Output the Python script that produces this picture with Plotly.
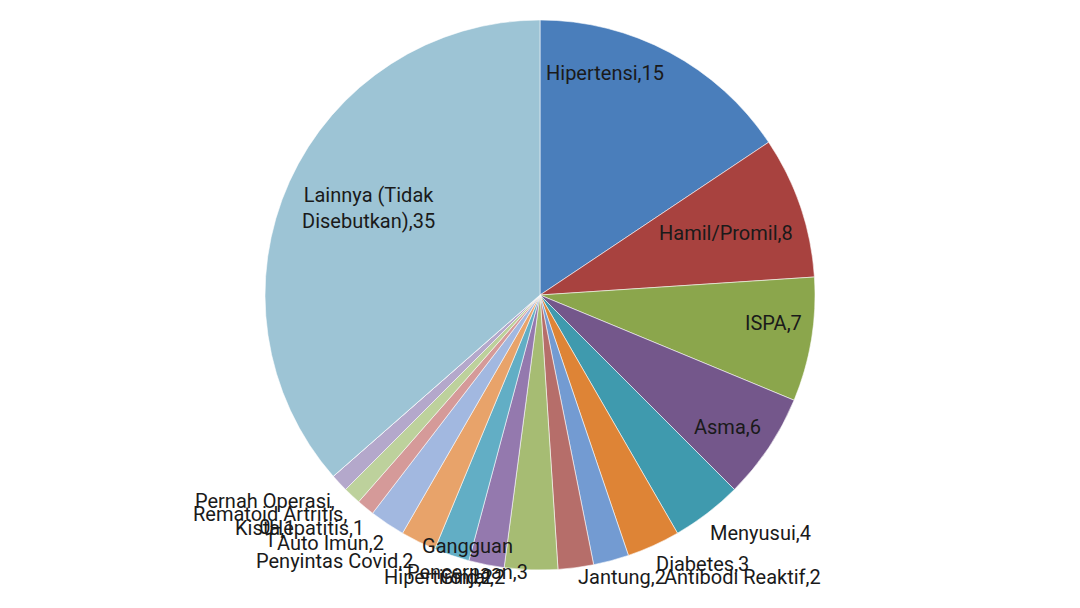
import plotly.graph_objects as go

# ---- data ----
categories = ["Hipertensi", "Hamil/Promil", "ISPA", "Asma", "Menyusui", "Diabetes",
              "Antibodi Reaktif", "Jantung", "Gangguan Pencernaan", "Ginjal", "Hipertiroid",
              "Penyintas Covid", "Auto Imun", "Hepatitis", "Kista", "Rematoid Artritis",
              "Pernah Operasi", "Lainnya (Tidak Disebutkan)"]
values = [15, 8, 7, 6, 4, 3, 2, 2, 3, 2, 2, 2, 2, 1, 1, 1, 0, 35]

colors = ["#4A7EBB", "#A8423F", "#8BA64C", "#74578B", "#3F9AAE", "#DE8436",
          "#739BD2", "#B66E6A", "#A6BC73", "#9479AE", "#62AEC5", "#E8A36A",
          "#A2B8E0", "#D59A99", "#BDD19C", "#B4A8CB", "#C9C9C9", "#9DC4D5"]

# label line breaks (Excel-like wrapping)
wrap = {"Gangguan Pencernaan": "Gangguan<br>Pencernaan",
        "Lainnya (Tidak Disebutkan)": "Lainnya (Tidak<br>Disebutkan)"}
wrap_value = {"Rematoid Artritis": True, "Pernah Operasi": True}

# label centre positions in pixels (layout only)
label_px = {
    "Hipertensi": (605, 73), "Hamil/Promil": (726, 233), "ISPA": (773, 323),
    "Asma": (727, 427), "Menyusui": (760, 533), "Diabetes": (702, 564),
    "Antibodi Reaktif": (742, 577), "Jantung": (622, 577),
    "Gangguan Pencernaan": (467, 559), "Ginjal": (472, 577), "Hipertiroid": (438, 577),
    "Penyintas Covid": (335, 561), "Auto Imun": (330, 543), "Hepatitis": (316, 528),
    "Kista": (265, 528), "Rematoid Artritis": (270, 527), "Pernah Operasi": (265, 514),
    "Lainnya (Tidak Disebutkan)": (368, 208),
}

W, H = 1080, 608
MT, MB = 20, 38
plot_h = H - MT - MB

fig = go.Figure(go.Pie(
    labels=categories, values=values, sort=False, direction="clockwise", rotation=0,
    marker=dict(colors=colors, line=dict(color="rgba(255,255,255,0.7)", width=0.8)),
    textinfo="none", hoverinfo="label+value", showlegend=False,
))

annotations = []
for cat, val in zip(categories, values):
    name = wrap.get(cat, cat)
    sep = ",<br>" if wrap_value.get(cat) else ","
    text = f"{name}{sep}{val}"
    px, py = label_px[cat]
    annotations.append(dict(
        x=px / W, y=(H - MB - py) / plot_h, xref="paper", yref="paper",
        text=text, showarrow=False, xanchor="center", yanchor="middle",
        font=dict(family="Roboto", size=20, color="#1a1a1a"), align="center",
    ))

fig.update_layout(
    width=W, height=H, margin=dict(l=0, r=0, t=MT, b=MB),
    paper_bgcolor="white", plot_bgcolor="white",
    annotations=annotations,
)
fig.write_html("out.html")
